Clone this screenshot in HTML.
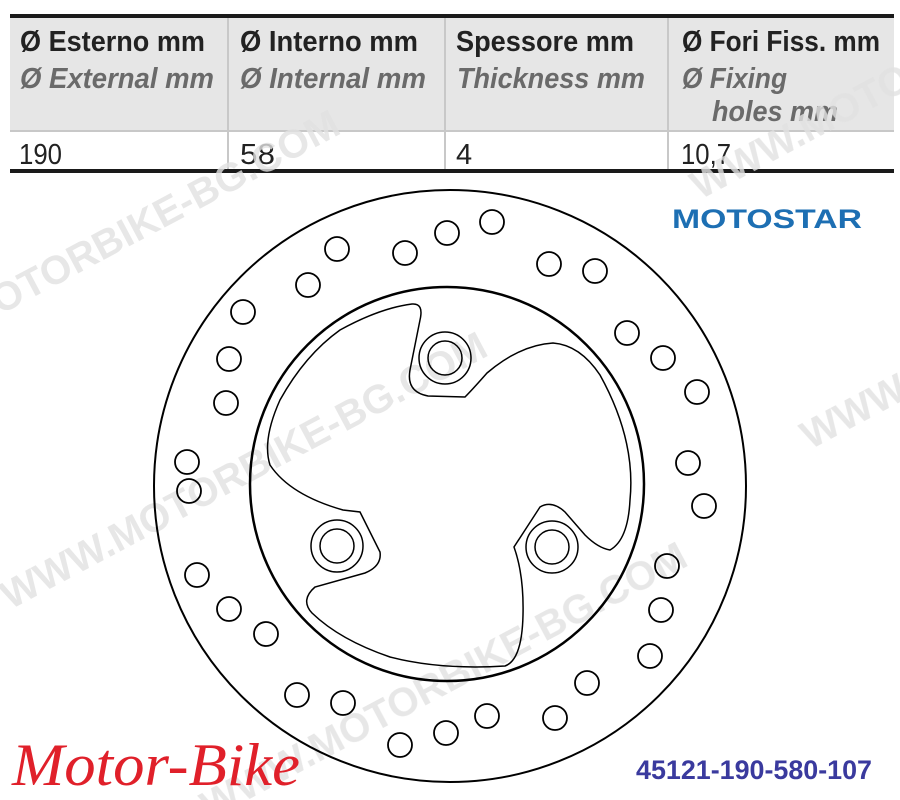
<!DOCTYPE html>
<html><head><meta charset="utf-8"><style>
html,body{margin:0;padding:0;background:#fff;width:900px;height:800px;overflow:hidden}
svg{display:block}
</style></head><body>
<svg width="900" height="800" viewBox="0 0 900 800" xmlns="http://www.w3.org/2000/svg">
<rect x="0" y="0" width="900" height="800" fill="#fff"/>
<rect x="10" y="17" width="884" height="113" fill="#e6e6e6"/>
<rect x="10" y="14" width="884" height="4" fill="#1a1a1a"/>
<rect x="10" y="130" width="884" height="2" fill="#c8c8c8"/>
<rect x="10" y="169" width="884" height="4" fill="#1a1a1a"/>
<g stroke="#c8c8c8" stroke-width="2">
<line x1="228" y1="18" x2="228" y2="169"/><line x1="445" y1="18" x2="445" y2="169"/><line x1="668" y1="18" x2="668" y2="169"/>
</g>
<g font-family="Liberation Sans, sans-serif" font-size="29" lengthAdjust="spacingAndGlyphs">
<text x="20" y="51" font-weight="bold" fill="#222" textLength="185" lengthAdjust="spacingAndGlyphs">Ø Esterno mm</text>
<text x="240" y="51" font-weight="bold" fill="#222" textLength="178" lengthAdjust="spacingAndGlyphs">Ø Interno mm</text>
<text x="456" y="51" font-weight="bold" fill="#222" textLength="178" lengthAdjust="spacingAndGlyphs">Spessore mm</text>
<text x="682" y="51" font-weight="bold" fill="#222" textLength="198" lengthAdjust="spacingAndGlyphs">Ø Fori Fiss. mm</text>
<g font-style="italic" font-weight="bold" fill="#6a6a6a">
<text x="20" y="88" textLength="194" lengthAdjust="spacingAndGlyphs">Ø External mm</text>
<text x="240" y="88" textLength="186" lengthAdjust="spacingAndGlyphs">Ø Internal mm</text>
<text x="457" y="88" textLength="188" lengthAdjust="spacingAndGlyphs">Thickness mm</text>
<text x="682" y="88" textLength="105" lengthAdjust="spacingAndGlyphs">Ø Fixing</text>
<text x="712" y="121" textLength="126" lengthAdjust="spacingAndGlyphs">holes mm</text>
</g>
<g fill="#222">
<text x="19" y="164" textLength="43" lengthAdjust="spacingAndGlyphs">190</text><text x="240" y="164" textLength="35" lengthAdjust="spacingAndGlyphs">58</text><text x="456" y="164">4</text><text x="681" y="164" textLength="50" lengthAdjust="spacingAndGlyphs">10,7</text>
</g>
</g>
<g font-family="Liberation Sans, sans-serif" font-weight="bold" font-size="40" fill="#e2e2e2" opacity="0.8">
<text transform="translate(0,315) rotate(-28)">OTORBIKE-BG.COM</text>
<text transform="translate(10,610) rotate(-28)">WWW.MOTORBIKE-BG.COM</text>
<text transform="translate(210,820) rotate(-28)">WWW.MOTORBIKE-BG.COM</text>
<text transform="translate(700,200) rotate(-28)">WWW.MOTO</text>
<text transform="translate(810,450) rotate(-28)">WWW.</text>
</g>
<circle cx="450" cy="486" r="296" fill="none" stroke="#000" stroke-width="2"/>
<circle cx="447" cy="484" r="197" fill="none" stroke="#000" stroke-width="2.5"/>
<g fill="none" stroke="#000" stroke-width="1.8">
<circle cx="492" cy="222" r="12"/><circle cx="447" cy="233" r="12"/><circle cx="405" cy="253" r="12"/><circle cx="337" cy="249" r="12"/><circle cx="308" cy="285" r="12"/><circle cx="243" cy="312" r="12"/><circle cx="229" cy="359" r="12"/><circle cx="226" cy="403" r="12"/><circle cx="187" cy="462" r="12"/><circle cx="189" cy="491" r="12"/><circle cx="197" cy="575" r="12"/><circle cx="229" cy="609" r="12"/><circle cx="266" cy="634" r="12"/><circle cx="297" cy="695" r="12"/><circle cx="343" cy="703" r="12"/><circle cx="400" cy="745" r="12"/><circle cx="446" cy="733" r="12"/><circle cx="487" cy="716" r="12"/><circle cx="555" cy="718" r="12"/><circle cx="587" cy="683" r="12"/><circle cx="650" cy="656" r="12"/><circle cx="661" cy="610" r="12"/><circle cx="667" cy="566" r="12"/><circle cx="704" cy="506" r="12"/><circle cx="688" cy="463" r="12"/><circle cx="697" cy="392" r="12"/><circle cx="663" cy="358" r="12"/><circle cx="627" cy="333" r="12"/><circle cx="595" cy="271" r="12"/><circle cx="549" cy="264" r="12"/>
</g>
<g fill="none" stroke="#000" stroke-width="1.5">
<path d="M412,304 Q424,303 420,320 L410,370 Q406,392 428,396 L465,397 Q472,390 487,373 Q520,345 553,343 Q580,345 600,375 Q636,440 630,500 Q628,540 610,550 Q598,548 585,535 L565,512 Q552,500 540,507 L514,547 Q524,575 523,615 Q522,660 505,666 Q440,670 390,657 Q340,640 312,613 Q300,600 315,587 L365,573 Q382,566 380,552 L360,512 L343,510 Q290,495 270,465 Q262,440 280,400 Q305,355 340,330 Q380,308 412,304 Z"/>
<circle cx="445" cy="358" r="26"/><circle cx="445" cy="358" r="17"/>
<circle cx="337" cy="546" r="26"/><circle cx="337" cy="546" r="17"/>
<circle cx="552" cy="547" r="26"/><circle cx="552" cy="547" r="17"/>
</g>
<text x="672" y="228" font-family="Liberation Sans, sans-serif" font-weight="900" font-size="27" fill="#1d6fb3" textLength="190" lengthAdjust="spacingAndGlyphs">MOTOSTAR</text>
<text x="12" y="785" font-family="Liberation Serif, serif" font-style="italic" font-size="60" fill="#e0202a" textLength="288" lengthAdjust="spacingAndGlyphs">Motor-Bike</text>
<text x="636" y="779" font-family="Liberation Sans, sans-serif" font-weight="bold" font-size="27" fill="#3a3a9e" textLength="236" lengthAdjust="spacingAndGlyphs">45121-190-580-107</text>
</svg>
</body></html>
